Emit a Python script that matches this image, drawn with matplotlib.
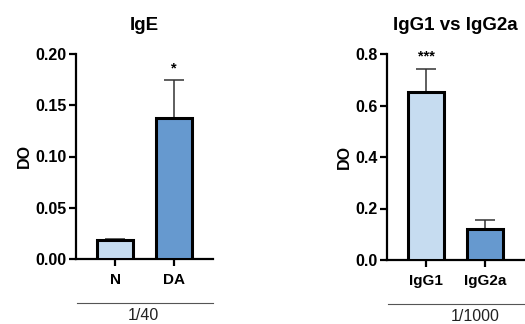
import matplotlib.pyplot as plt

plt.rcParams['font.family'] = ['Liberation Sans', 'DejaVu Sans']

light = '#c6dcf0'
dark = '#6699cf'

ige_groups = ['N', 'DA']
ige_means = [0.0185, 0.138]
ige_err = [0.0015, 0.037]

igg_groups = ['IgG1', 'IgG2a']
igg_means = [0.651, 0.122]
igg_err = [0.091, 0.035]

fig = plt.figure(figsize=(5.25, 3.24), dpi=100)
ax1 = fig.add_axes([76 / 525, 1 - 259 / 324, 137 / 525, 205 / 324])
ax2 = fig.add_axes([387 / 525, 1 - 260 / 324, 137 / 525, 206 / 324])


def draw(ax, groups, means, errs, ymax, yticks, fmt, title, star, star_y,
         dilution, dil_x, line_end):
    x = range(len(groups))
    ax.bar(x, means, width=0.62, color=[light, dark], edgecolor='black',
           linewidth=2.2, zorder=3)
    ax.errorbar(x, means, yerr=[[0] * len(errs), errs], fmt='none',
                ecolor='#333333', elinewidth=1.1, capsize=7, capthick=1.1, zorder=2)
    ax.set_xlim(-0.665, 1.67)
    ax.set_ylim(0, ymax)
    ax.set_yticks(yticks)
    ax.set_yticklabels([fmt.format(v) for v in yticks])
    ax.set_xticks(list(x))
    ax.set_xticklabels(groups)
    for s in ['top', 'right']:
        ax.spines[s].set_visible(False)
    for s in ['left', 'bottom']:
        ax.spines[s].set_linewidth(1.6)
    ax.tick_params(width=1.6, length=5)
    ax.tick_params(axis='y', labelsize=11.5, pad=1.5)
    ax.tick_params(axis='x', labelsize=11, pad=5)
    for lab in ax.get_xticklabels() + ax.get_yticklabels():
        lab.set_fontweight('bold')
    ax.set_ylabel('DO', fontsize=11.5, fontweight='bold', labelpad=3)
    ax.set_title(title, fontsize=13.5, fontweight='bold', pad=17)
    ax.text(star[0], star_y, star[1], ha='center', va='center',
            fontsize=10.5, fontweight='bold')
    tr = ax.get_xaxis_transform()
    ax.plot([-0.65, line_end], [-0.215, -0.215], color='#555555', lw=0.8,
            transform=tr, clip_on=False)
    ax.text(dil_x, -0.275, dilution, transform=tr, ha='center', va='center',
            fontsize=11.5, color='#222222')


draw(ax1, ige_groups, ige_means, ige_err, 0.2, [0, 0.05, 0.10, 0.15, 0.20],
     '{:.2f}', 'IgE', (1, '*'), 0.186, '1/40', 0.48, 1.67)
draw(ax2, igg_groups, igg_means, igg_err, 0.8, [0, 0.2, 0.4, 0.6, 0.8],
     '{:.1f}', 'IgG1 vs IgG2a', (0, '***'), 0.79, '1/1000', 0.83, 2.0)

fig.savefig('out.png', dpi=100)
